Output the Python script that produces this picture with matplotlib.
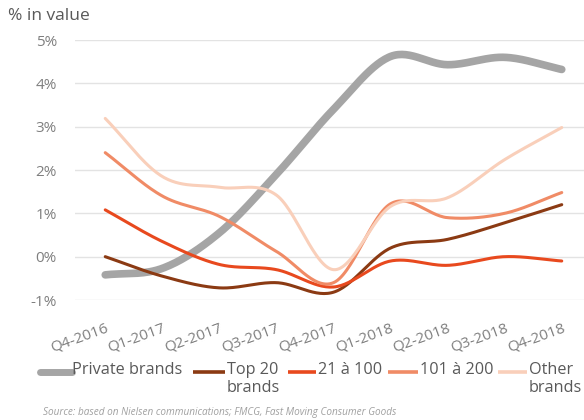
import numpy as np
import matplotlib
matplotlib.use("Agg")
import matplotlib.pyplot as plt
from matplotlib.lines import Line2D

quarters = ["Q4-2016", "Q1-2017", "Q2-2017", "Q3-2017", "Q4-2017",
            "Q1-2018", "Q2-2018", "Q3-2018", "Q4-2018"]
private_brands = [-0.42, -0.27, 0.55, 1.9, 3.4, 4.62, 4.43, 4.6, 4.32]
top20_brands = [0.0, -0.45, -0.72, -0.6, -0.82, 0.2, 0.4, 0.78, 1.2]
brands_21_100 = [1.08, 0.35, -0.18, -0.3, -0.7, -0.1, -0.2, 0.0, -0.1]
brands_101_200 = [2.4, 1.4, 0.93, 0.12, -0.6, 1.22, 0.9, 1.0, 1.48]
other_brands = [3.19, 1.85, 1.6, 1.42, -0.3, 1.16, 1.36, 2.24, 2.98]
series_labels = ["Private brands", "Top 20\nbrands", "21 à 100", "101 à 200", "Other\nbrands"]
yticks = [-1, 0, 1, 2, 3, 4, 5]

colors = ["#A5A5A5", "#8B3A13", "#E8491E", "#F08B66", "#F9CFBA"]
widths = [5.5, 2.2, 2.2, 2.2, 2.2]

plt.rcParams['font.family'] = ['Open Sans', 'DejaVu Sans']


def smooth(y, n=30):
    """Catmull-Rom smoothing through the data points (Excel-like smoothed line)."""
    y = np.asarray(y, dtype=float)
    x = np.arange(len(y), dtype=float)
    px = np.concatenate([[2 * x[0] - x[1]], x, [2 * x[-1] - x[-2]]])
    py = np.concatenate([[2 * y[0] - y[1]], y, [2 * y[-1] - y[-2]]])
    xs, ys = [], []
    t = np.linspace(0, 1, n, endpoint=False)
    for i in range(1, len(px) - 2):
        for P, out in ((px, xs), (py, ys)):
            p0, p1, p2, p3 = P[i - 1], P[i], P[i + 1], P[i + 2]
            out.extend(0.5 * ((2 * p1) + (-p0 + p2) * t
                              + (2 * p0 - 5 * p1 + 4 * p2 - p3) * t ** 2
                              + (-p0 + 3 * p1 - 3 * p2 + p3) * t ** 3))
    xs.append(x[-1]); ys.append(y[-1])
    return np.array(xs), np.array(ys)


W, H = 584, 420
fig = plt.figure(figsize=(W / 100, H / 100), dpi=100)
ax = fig.add_axes([75 / W, 1 - 300 / H, 509 / W, 260 / H])

all_series = [private_brands, top20_brands, brands_21_100, brands_101_200, other_brands]
for i, s in enumerate(all_series):
    xs, ys = smooth(s)
    ax.plot(xs, ys, color=colors[i], lw=widths[i], solid_capstyle='round', zorder=3)

ax.set_xlim(-0.53, 8.39)
ax.set_ylim(-1, 5)
ax.set_yticks(yticks)
ax.set_yticklabels([f"{v}%" for v in yticks])
ax.set_xticks(range(len(quarters)))
ax.set_xticklabels(quarters)
plt.setp(ax.get_xticklabels(), rotation=20, ha='right', rotation_mode='anchor')
ax.tick_params(axis='both', length=0, labelsize=11, colors='#7F7F7F')
ax.tick_params(axis='y', pad=13)
ax.tick_params(axis='x', pad=15)
ax.grid(axis='y', color='#E3E3E3', lw=1)
ax.set_axisbelow(True)
for s in ax.spines.values():
    s.set_visible(False)

fig.text(8 / W, 1 - 16 / H, "% in value", fontsize=12.5, color='#595959', va='center', ha='left')

# legend drawn manually to mimic the wrapped layout of the reference
handle_x = [(40, 72), (193, 225), (288, 316), (388, 418), (498, 527)]
text_x = [72, 227, 318, 420, 529]
leg_y = 372
for i in range(5):
    x0, x1 = handle_x[i]
    fig.add_artist(Line2D([x0 / W, x1 / W], [1 - leg_y / H] * 2, color=colors[i],
                          lw=5 if i == 0 else 2.6, solid_capstyle='round' if i == 0 else 'butt',
                          transform=fig.transFigure))
    fig.text(text_x[i] / W, 1 - (leg_y - 10) / H, series_labels[i], fontsize=11.7, color='#595959',
             ha='left', va='top', linespacing=1.18)

fig.text(43 / W, 1 - 412 / H, "Source: based on Nielsen communications; FMCG, Fast Moving Consumer Goods",
         fontsize=7.2, style='italic', color='#A0A0A0', va='center', ha='left')

fig.savefig("out.png", dpi=100)
